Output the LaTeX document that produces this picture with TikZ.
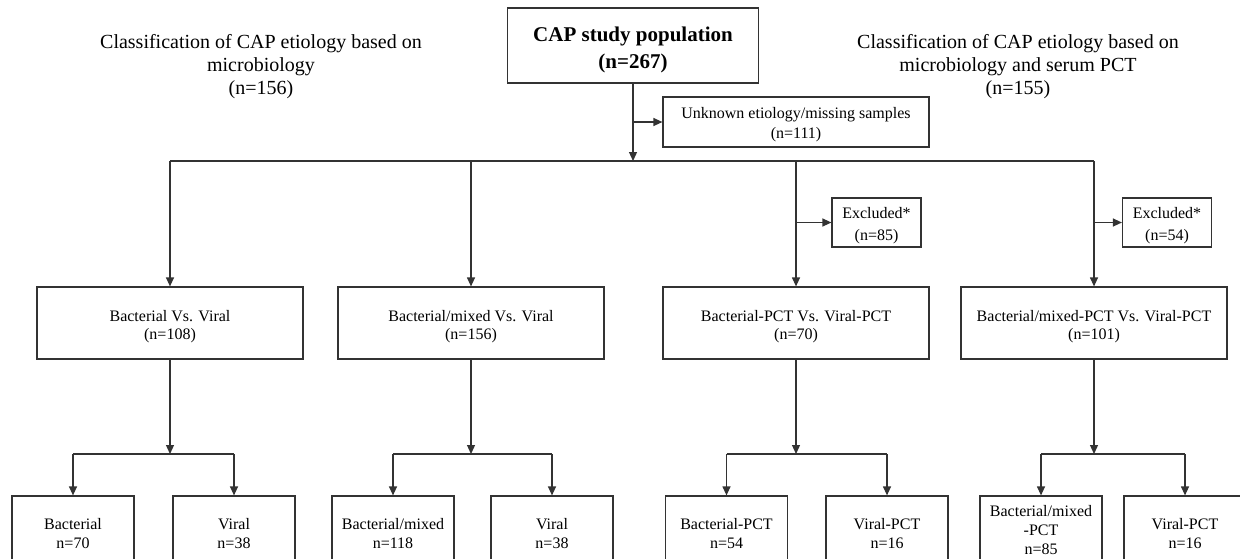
\documentclass[tikz,border=0pt]{standalone}
\usepackage{fontspec}
\setmainfont{Liberation Serif}
\usetikzlibrary{arrows.meta, positioning, calc}

% lowers a box text a little
\newcommand{\tstrut}[1]{\rule{0pt}{#1}}

\begin{document}
\begin{tikzpicture}[x=0.5pt, y=-0.5pt, font=\fontsize{8}{9.5}\selectfont]
	\tikzset{
		box/.style={draw=black!80, line width=0.6pt, align=center, inner sep=0pt},
		mid/.style={box, minimum width=133pt, minimum height=36pt, font=\fontsize{8}{9}\selectfont},
		leaf/.style={box, minimum width=61pt, minimum height=34pt},
		excl/.style={box, minimum width=44.5pt, minimum height=24.5pt, font=\fontsize{8}{11}\selectfont},
		heading/.style={align=center, font=\fontsize{10}{11.5}\selectfont},
		link/.style={draw=black!80, line width=0.6pt},
		arr/.style={link, -{Triangle[length=4.5pt, width=4pt]}}
	}
	\useasboundingbox (0,0) rectangle (1240,558);
	\clip (0,0) rectangle (1240,558);

	% headings
	\node[heading] (hl) at (261,67) {Classification of CAP etiology based on\\microbiology\\(n=156)};
	\node[heading] (hr) at (1018,67) {Classification of CAP etiology based on\\microbiology and serum PCT\\(n=155)};

	% population
	\node[box, minimum width=125.5pt, minimum height=37.5pt, font=\fontsize{10.5}{13.5}\selectfont\bfseries] (pop) at (633,45.5) {\tstrut{12.2pt}CAP study population\\(n=267)};
	\node[box, minimum width=133pt, minimum height=25pt, font=\fontsize{8}{10}\selectfont] (unk) at (796,122) {\tstrut{8pt}Unknown etiology/missing samples\\(n=111)};
	\coordinate (hub) at (pop.south |- 0,161);

	% comparisons
	\node[mid] (m1) at (170,323) {\tstrut{9pt}Bacterial Vs. Viral\\(n=108)};
	\node[mid] (m2) at (471,323) {\tstrut{9pt}Bacterial/mixed Vs. Viral\\(n=156)};
	\node[mid] (m3) at (796,323) {\tstrut{9pt}Bacterial-PCT Vs. Viral-PCT\\(n=70)};
	\node[mid] (m4) at (1094,323) {\tstrut{9pt}Bacterial/mixed-PCT Vs. Viral-PCT\\(n=101)};

	\node[excl] (ex1) at (876.5,222.5) {\tstrut{9pt}Excluded*\\(n=85)};
	\node[excl] (ex2) at (1167,222.5) {\tstrut{9pt}Excluded*\\(n=54)};

	% groups
	\node[leaf] (b1) at (73,530) {\tstrut{9.5pt}Bacterial\\n=70};
	\node[leaf] (b2) at (234,530) {\tstrut{9.5pt}Viral\\n=38};
	\node[leaf] (b3) at (393,530) {\tstrut{9.5pt}Bacterial/mixed\\n=118};
	\node[leaf] (b4) at (552,530) {\tstrut{9.5pt}Viral\\n=38};
	\node[leaf] (b5) at (726.5,530) {\tstrut{9.5pt}Bacterial-PCT\\n=54};
	\node[leaf] (b6) at (887,530) {\tstrut{9.5pt}Viral-PCT\\n=16};
	\node[leaf] (b7) at (1041,530) {Bacterial/mixed\\-PCT\\n=85};
	\node[leaf] (b8) at (1185,530) {\tstrut{9.5pt}Viral-PCT\\n=16};

	% connectors
	\draw[arr] (pop) -- (hub);
	\draw[arr] (pop.south |- unk) -- (unk);
	\draw[link] (m1 |- hub) -- (m4 |- hub);
	\foreach \m in {m1,m2,m3,m4}
		\draw[arr] (\m |- hub) -- (\m);
	\draw[arr] (m3 |- ex1) -- (ex1);
	\draw[arr] (m4 |- ex2) -- (ex2);

	\foreach \m/\a/\b [count=\i] in {m1/b1/b2, m2/b3/b4, m3/b5/b6, m4/b7/b8} {
		\coordinate (s\i) at (\m |- 0,454);
		\draw[arr] (\m) -- (s\i);
		\draw[link] (\a |- s\i) -- (\b |- s\i);
		\draw[arr] (\a |- s\i) -- (\a);
		\draw[arr] (\b |- s\i) -- (\b);
	}
\end{tikzpicture}
\end{document}
